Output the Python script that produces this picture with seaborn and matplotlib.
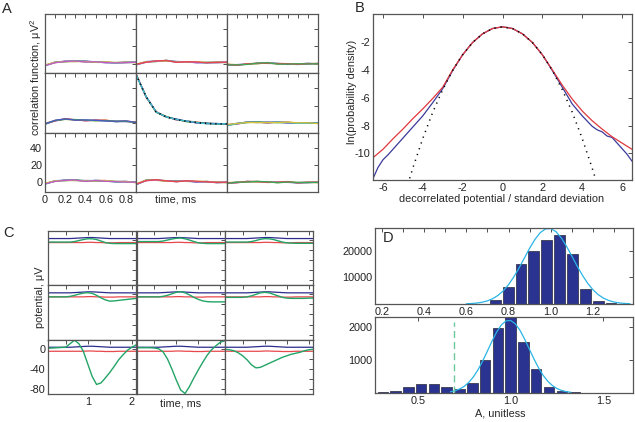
import matplotlib
matplotlib.use("Agg")
import matplotlib.pyplot as plt
import seaborn as sns

# -----------------------------
# Panel A: correlation functions (3x3 channel pairs)
# -----------------------------
a_time = [0.0, 0.1, 0.2, 0.3, 0.4, 0.5, 0.6, 0.7, 0.8, 0.9]
a_r1c1 = [-2.0, 1.5, 2.5, 2.8, 2.5, 2.0, 1.5, 1.0, 1.5, 1.5]
a_r1c2 = [-1.0, 2.0, 2.8, 3.5, 2.0, 2.0, 1.5, 1.2, 1.5, 1.5]
a_r1c3 = [-1.0, -1.5, -0.5, 0.3, 0.8, 0.0, -0.5, -0.5, 0.0, 0.0]
a_r2c1 = [-1.0, 2.7, 4.5, 3.5, 3.0, 3.0, 2.7, 1.8, 2.0, 0.8]
a_r2c2 = [56.0, 30.0, 12.5, 7.0, 4.0, 2.0, 0.5, -0.5, -1.0, -1.0]
a_r2c3 = [-2.3, -0.8, 0.8, 0.8, 0.5, 0.8, 0.5, 0.0, 0.0, -0.3]
a_r3c1 = [-1.5, 1.5, 2.3, 2.5, 1.6, 2.0, 1.6, 0.8, 0.8, 0.0]
a_r3c2 = [-2.3, 2.3, 2.7, 1.6, 1.2, 1.6, 0.8, 0.8, 0.0, 0.0]
a_r3c3 = [-0.8, 0.0, 0.8, 0.8, 0.4, 0.0, 0.4, -0.4, 0.0, 0.0]
a_grid = [[a_r1c1, a_r1c2, a_r1c3],
          [a_r2c1, a_r2c2, a_r2c3],
          [a_r3c1, a_r3c2, a_r3c3]]

# small offsets between the overlapping coloured estimates
a_spread_red = [0.4, -0.3, 0.5, 0.2, -0.4, 0.3, 0.6, -0.2, 0.1, 0.4]
a_spread_green = [-0.3, 0.2, -0.4, 0.5, 0.3, -0.5, 0.0, 0.4, -0.3, 0.0]
a_spread_blue = [0.0, 0.5, 0.2, -0.3, 0.6, 0.1, -0.4, 0.2, 0.5, -0.2]
a_spread_cyan = [-0.5, -0.1, 0.3, 0.0, -0.2, 0.4, 0.2, -0.5, -0.1, 0.3]
a_spread_yellow = [0.6, 0.3, -0.2, -0.4, 0.1, -0.3, 0.5, 0.3, 0.3, -0.4]
a_spread_magenta = [-0.2, -0.4, 0.0, 0.3, -0.5, 0.2, -0.3, 0.0, -0.4, 0.2]
a_spreads = [a_spread_red, a_spread_green, a_spread_blue,
             a_spread_cyan, a_spread_yellow, a_spread_magenta]
a_colors = ["#e8474c", "#3aa655", "#4a57c8", "#3cc0c8", "#d4c23a", "#c45ac8"]

# -----------------------------
# Panel B: log probability density
# -----------------------------
b_red_x = [-6.5, -6, -5.5, -5, -4.5, -4, -3.5, -3, -2.5, -2, -1.5, -1, -0.5, 0,
           0.5, 1, 1.5, 2, 2.5, 3, 3.5, 4, 4.5, 5, 5.5, 6, 6.5]
b_red_y = [-10.3, -9.7, -8.95, -8.25, -7.5, -6.8, -6.05, -5.25, -4.0, -2.92, -2.04, -1.42, -1.04, -0.92,
           -1.04, -1.42, -2.04, -2.92, -4.0, -5.1, -6.1, -6.95, -7.65, -8.25, -8.8, -9.25, -9.7]
b_blue_x = [-6.5, -6.25, -6, -5.75, -5.5, -5.25, -5, -4.5, -4, -3.5, -3, -2.5, -2, -1.5, -1, -0.5, 0,
            0.5, 1, 1.5, 2, 2.5, 3, 3.5, 4, 4.5, 4.75, 5, 5.25, 5.5, 5.75, 6, 6.25, 6.5]
b_blue_y = [-11.8, -11.0, -10.45, -10.1, -9.7, -9.3, -8.9, -8.1, -7.3, -6.35, -5.35, -4.05, -2.92, -2.04,
            -1.42, -1.04, -0.92, -1.04, -1.42, -2.04, -2.92, -4.05, -5.25, -6.45, -7.3, -8.05, -8.3,
            -8.45, -8.75, -8.85, -9.25, -9.65, -10.05, -10.55]
b_gauss_x = [-4.75, -4.5, -4, -3.5, -3, -2.5, -2, -1.5, -1, -0.5, 0,
             0.5, 1, 1.5, 2, 2.5, 3, 3.5, 4, 4.5, 4.75]
b_gauss_y = [-12.2, -11.04, -8.92, -7.04, -5.42, -4.04, -2.92, -2.04, -1.42, -1.04, -0.92,
             -1.04, -1.42, -2.04, -2.92, -4.04, -5.42, -7.04, -8.92, -11.04, -12.2]

# -----------------------------
# Panel C: mean waveforms (3x3 channels)
# -----------------------------
c_time = [0.1, 0.2, 0.3, 0.4, 0.5, 0.6, 0.7, 0.8, 0.9, 1.0, 1.1,
          1.2, 1.3, 1.4, 1.5, 1.6, 1.7, 1.8, 1.9, 2.0, 2.1]
c_blue = [3, 3, 3, 3, 3, 3, 3.5, 4, 4.5, 5, 5, 4.5, 4, 3.5, 3, 3, 3, 3, 3, 3, 3]
c_red = [-5, -5, -5, -5, -5, -5, -5, -5, -5, -4.5, -4.5, -5, -5, -5.5, -5.5, -5.5, -5, -5, -5, -5, -5]
c_r1c1 = [-4, -4, -4, -4, -4, -4, -3, -1, 1, 2.5, 2.5, 1, -2, -5, -6.5, -7, -7, -7, -7, -7, -7]
c_r1c2 = [-3, -3, -3, -3, -3, -3, -2, 0, 2, 3.5, 4, 2.5, 0, -3, -5.5, -6.5, -7, -7, -7, -7, -7]
c_r1c3 = [-4, -4, -4, -4, -4, -4, -3, -1, 1.5, 2.7, 2.5, 1, -1.5, -4, -5.5, -6, -6.5, -6.5, -6.5, -6.5, -6.5]
c_r2c1 = [-5, -5, -5, -5, -5, -4, -2, 0.5, 2.5, 3.3, 2, -2, -7, -11, -13.5, -13, -12, -11, -10, -9, -8]
c_r2c2 = [-5, -5, -5, -5, -5, -5, -4, -2, 1, 4, 5.3, 3, -1, -6, -10, -13, -14.5, -15, -15, -15, -15]
c_r2c3 = [-6, -6, -6, -6, -6, -5, -3, 0, 3, 4, 3, 0, -3, -6, -7.5, -8, -8, -8, -8, -7.5, -7.5]
c_r3c1 = [1, 1.5, 2, 2.5, 3, 10, 17, 10, -5, -30, -55, -71, -68, -58, -47, -35, -22, -12, -3, 3, 8]
c_r3c2 = [2, 2, 2, 2, 1.5, 0, -6, -20, -40, -62, -82, -89, -75, -58, -42, -27, -13, -2, 6, 13, 16]
c_r3c3 = [-1, -2, -4, -8, -14, -22, -32, -38, -37, -33, -29, -25, -21, -17, -14, -11, -9, -7, -4, -2, -1]
c_grid = [[c_r1c1, c_r1c2, c_r1c3],
          [c_r2c1, c_r2c2, c_r2c3],
          [c_r3c1, c_r3c2, c_r3c3]]

# -----------------------------
# Panel D: amplitude histograms
# -----------------------------
d_top_centers = [0.737, 0.798, 0.859, 0.920, 0.981, 1.042, 1.103, 1.164, 1.225, 1.286]
d_top_counts = [1480, 6400, 15060, 20000, 24070, 25800, 18770, 5800, 1230, 500]
d_top_fit_x = [0.600, 0.625, 0.650, 0.675, 0.700, 0.725, 0.750, 0.775, 0.800, 0.825, 0.850,
               0.875, 0.900, 0.925, 0.950, 0.975, 1.000, 1.025, 1.050, 1.075, 1.100, 1.125,
               1.150, 1.175, 1.200, 1.225, 1.250, 1.275, 1.300, 1.325, 1.350, 1.375]
d_top_fit_y = [90, 184, 359, 668, 1181, 1996, 3218, 4945, 7254, 10148, 13535,
               17225, 20911, 24197, 26733, 28159, 28292, 27113, 24795, 21608, 17975, 14257,
               10790, 7789, 5363, 3522, 2205, 1317, 751, 408, 212, 105]

d_bot_centers = [0.310, 0.379, 0.448, 0.517, 0.586, 0.655, 0.724, 0.793, 0.862, 0.931,
                 1.000, 1.069, 1.138, 1.207, 1.276, 1.345, 1.414, 1.483, 1.552, 1.621]
d_bot_counts = [20, 60, 170, 285, 275, 170, 120, 305, 995, 1970,
                2400, 1555, 720, 180, 50, 20, 10, 10, 8, 5]
d_bot_fit_x = [0.675, 0.700, 0.725, 0.750, 0.775, 0.800, 0.825, 0.850, 0.875, 0.900,
               0.925, 0.950, 0.975, 1.000, 1.025, 1.050, 1.075, 1.100, 1.125, 1.150,
               1.175, 1.200, 1.225, 1.250, 1.275, 1.300, 1.325]
d_bot_fit_y = [37, 69, 122, 205, 328, 498, 718, 984, 1281, 1583,
               1859, 2071, 2192, 2204, 2104, 1907, 1642, 1342, 1042, 768,
               538, 358, 226, 135, 77, 42, 21]
d_threshold = 0.694
d_threshold_top = 2160

# -----------------------------
# Style
# -----------------------------
sns.set_theme(style="white")
plt.rcParams["font.family"] = ["Liberation Sans", "DejaVu Sans"]
plt.rcParams["mathtext.fontset"] = "custom"
plt.rcParams["mathtext.rm"] = "Liberation Sans"
plt.rcParams["axes.unicode_minus"] = False

FS = 7.8
W, H = 635, 422
fig = plt.figure(figsize=(W / 100, H / 100), dpi=100)


def px_axes(left, top, right, bottom):
    return fig.add_axes([left / W, 1 - bottom / H, (right - left) / W, (bottom - top) / H])


def box(ax):
    ax.tick_params(which="both", direction="in", top=True, right=True, length=2.8,
                   width=0.6, colors="#333333", labelsize=FS, pad=2,
                   labelcolor="#222222")
    for s in ax.spines.values():
        s.set_color("#555555")
        s.set_linewidth(0.9)
    ax.set_xlabel("")
    ax.set_ylabel("")


# =====================================================
# A
# =====================================================
a_left = [45, 136, 227]
a_top = [14, 73.3, 132.7]
for r in range(3):
    for c in range(3):
        ax = px_axes(a_left[c], a_top[r], a_left[c] + 91, a_top[r] + 59.3)
        base = a_grid[r][c]
        # rotate the drawing order so no single colour always sits on top
        k = (r * 3 + c) % 6
        order = list(range(k, 6)) + list(range(0, k))
        for i in order:
            sns.lineplot(x=a_time, y=[b + s for b, s in zip(base, a_spreads[i])],
                         ax=ax, color=a_colors[i], linewidth=0.9)
        if r == 1 and c == 1:
            sns.lineplot(x=a_time, y=base, ax=ax, color="black",
                         linewidth=1.1, linestyle=(0, (0.8, 2.6)))
        ax.set_xlim(0, 0.9)
        ax.set_ylim(-11, 57)
        ax.set_xticks([0, 0.2, 0.4, 0.6, 0.8])
        ax.set_xticks([0.1, 0.3, 0.5, 0.7], minor=True)
        ax.set_yticks([0, 20, 40])
        box(ax)
        if r == 2 and c == 0:
            ax.set_xticklabels(["0", "0.2", "0.4", "0.6", "0.8"])
        else:
            ax.tick_params(labelbottom=False, labelleft=False)

fig.text(7 / W, 1 - 9 / H, "A", fontsize=10.5, ha="center", va="center")
fig.text(36 / W, 1 - 77 / H, "correlation function, μV$^\\mathrm{2}$", rotation=90,
         fontsize=FS, ha="center", va="center")
fig.text(176 / W, 1 - 200 / H, "time, ms", fontsize=FS, ha="center", va="center")

# =====================================================
# B
# =====================================================
ax = px_axes(373, 14, 632, 180)
sns.lineplot(x=b_blue_x, y=b_blue_y, ax=ax, color="#3a3a9c", linewidth=0.9)
sns.lineplot(x=b_red_x, y=b_red_y, ax=ax, color="#e0383c", linewidth=0.9)
sns.lineplot(x=b_gauss_x, y=b_gauss_y, ax=ax, color="black", linewidth=1.1,
             linestyle=(0, (0.8, 3.2)))
ax.set_xlim(-6.5, 6.5)
ax.set_ylim(-11.9, 0)
ax.set_xticks([-6, -4, -2, 0, 2, 4, 6])
ax.set_yticks([-10, -8, -6, -4, -2])
box(ax)
fig.text(360 / W, 1 - 8 / H, "B", fontsize=10.5, ha="center", va="center")
fig.text(352 / W, 1 - 92 / H, "ln(probability density)", rotation=90,
         fontsize=FS, ha="center", va="center")
fig.text(502 / W, 1 - 199 / H, "decorrelated potential / standard deviation",
         fontsize=FS, ha="center", va="center")

# =====================================================
# C
# =====================================================
c_left = [48, 136.5, 225]
c_top = [231, 285.3, 339.7]
for r in range(3):
    for c in range(3):
        ax = px_axes(c_left[c], c_top[r], c_left[c] + 88.3, c_top[r] + 54.3)
        sns.lineplot(x=c_time, y=c_red, ax=ax, color="#e8484c", linewidth=0.9)
        sns.lineplot(x=c_time, y=c_blue, ax=ax, color="#2c2c8c", linewidth=0.9)
        sns.lineplot(x=c_time, y=c_grid[r][c], ax=ax, color="#22a466", linewidth=1.0)
        ax.set_xlim(0.1, 2.1)
        ax.set_ylim(-90, 18)
        ax.set_xticks([0.5, 1.0, 1.5, 2.0])
        ax.set_yticks([-80, -60, -40, -20, 0])
        box(ax)
        if r == 2 and c == 0:
            ax.set_xticklabels(["", "1", "", "2"])
            ax.set_yticklabels(["-80", "", "-40", "", "0"])
        else:
            ax.tick_params(labelbottom=False, labelleft=False)

fig.text(8 / W, 1 - 233 / H, "C", fontsize=10.5, ha="center", va="center")
fig.text(40 / W, 1 - 297 / H, "potential, μV", rotation=90,
         fontsize=FS, ha="center", va="center")
fig.text(181 / W, 1 - 403 / H, "time, ms", fontsize=FS, ha="center", va="center")

# =====================================================
# D
# =====================================================
bar_color = "#2b3390"
ax = px_axes(375, 228, 633, 304)
sns.barplot(x=d_top_centers, y=d_top_counts, native_scale=True, width=0.84,
            color=bar_color, saturation=1, edgecolor="#3a3a50", linewidth=0.6,
            errorbar=None, ax=ax)
sns.lineplot(x=d_top_fit_x, y=d_top_fit_y, ax=ax, color="#29b4e6", linewidth=0.9)
ax.set_xlim(0.167, 1.39)
ax.set_ylim(0, 28500)
ax.set_xticks([0.2, 0.4, 0.6, 0.8, 1.0, 1.2])
ax.set_xticks([0.3, 0.5, 0.7, 0.9, 1.1, 1.3], minor=True)
ax.set_xticklabels(["0.2", "0.4", "0.6", "0.8", "1.0", "1.2"])
ax.set_yticks([10000, 20000])
ax.set_yticklabels(["10000", "20000"])
box(ax)
ax.text(0.03, 0.87, "D", transform=ax.transAxes, fontsize=10.5, ha="left", va="center")

ax = px_axes(375, 317, 633, 393)
sns.barplot(x=d_bot_centers, y=d_bot_counts, native_scale=True, width=0.82,
            color=bar_color, saturation=1, edgecolor="#3a3a50", linewidth=0.6,
            errorbar=None, ax=ax)
sns.lineplot(x=d_bot_fit_x, y=d_bot_fit_y, ax=ax, color="#29b4e6", linewidth=0.9)
ax.vlines(d_threshold, 0, d_threshold_top, colors="#6cc89a", linestyles=(0, (5, 3)),
          linewidth=1.0)
ax.set_xlim(0.268, 1.66)
ax.set_ylim(0, 2310)
ax.set_xticks([0.5, 1.0, 1.5])
ax.set_xticklabels(["0.5", "1.0", "1.5"])
ax.set_yticks([1000, 2000])
box(ax)
fig.text(500 / W, 1 - 413 / H, "A, unitless", fontsize=FS, ha="center", va="center")

fig.savefig("out.png", dpi=100)
